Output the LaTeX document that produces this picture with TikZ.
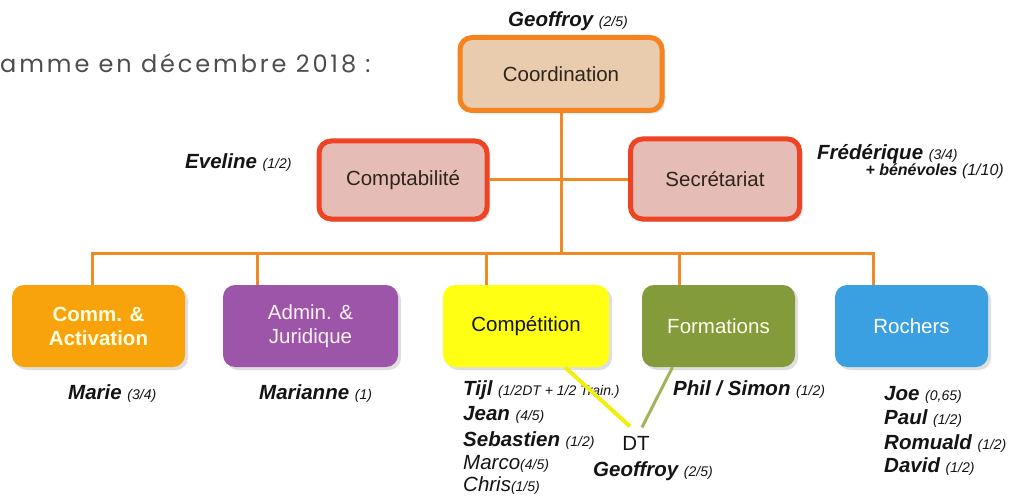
\documentclass[tikz,border=0pt]{standalone}
\usepackage{fontspec}
\setmainfont{Liberation Sans}
\newfontfamily\headfont[LetterSpace=12]{Poppins}
\usetikzlibrary{shadows}

\definecolor{connorange}{HTML}{F08A24}
\definecolor{coordfill}{HTML}{E9CBAE}
\definecolor{coordline}{HTML}{F5831F}
\definecolor{subfill}{HTML}{E6BDB6}
\definecolor{subline}{HTML}{EE4324}
\definecolor{commfill}{HTML}{F8A30B}
\definecolor{adminfill}{HTML}{9C55A8}
\definecolor{competfill}{HTML}{FFFF14}
\definecolor{formfill}{HTML}{849B3B}
\definecolor{rochfill}{HTML}{3BA0E2}
\definecolor{dtyellow}{HTML}{F2EE10}
\definecolor{dtgreen}{HTML}{A2B45A}
\definecolor{ink}{HTML}{141414}
\definecolor{headgray}{HTML}{4D4D4D}

\newcommand{\pers}[2]{{\bfseries\itshape #1} {\fontsize{14}{16}\selectfont\itshape #2}}

\begin{document}
\begin{tikzpicture}[x=1pt,y=-1pt,
    conn/.style={draw=connorange, line width=3pt},
    topbox/.style={rounded corners=12pt, line width=5pt, text=ink!85!brown, font=\fontsize{20.5}{24}\selectfont,
      drop shadow={opacity=0.25, shadow xshift=3pt, shadow yshift=-3pt}},
    dept/.style={rounded corners=12pt, minimum height=82pt, align=center, font=\fontsize{20.5}{24}\selectfont,
      drop shadow={opacity=0.25, shadow xshift=3pt, shadow yshift=-3pt}},
    who/.style={anchor=base west, inner sep=0pt, text=ink, font=\fontsize{20.5}{24}\selectfont}]
  \useasboundingbox (0,0) rectangle (1014,497);

  \node[anchor=base west, inner sep=0pt, text=headgray, font=\headfont\fontsize{24}{28}\selectfont] (title) at (0,73) {amme en décembre 2018 :};

  \node[topbox, draw=coordline, fill=coordfill, minimum width=202pt, minimum height=73pt] (coord) at (561,74) {Coordination};
  \node[topbox, draw=subline, fill=subfill, minimum width=168pt, minimum height=78pt] (compta) at (403,180) {Comptabilité};
  \node[topbox, draw=subline, fill=subfill, minimum width=169pt, minimum height=80pt] (secr) at (715,179) {Secrétariat};

  \node[dept, fill=commfill, minimum width=173pt, text=yellow!12, font=\fontsize{20.5}{24}\selectfont\bfseries] (comm) at (98.5,326) {Comm. \&\\Activation};
  \node[dept, fill=adminfill, minimum width=175pt, text=pink!20] (admin) at (310.5,326) {Admin. \&\\Juridique};
  \node[dept, fill=competfill, minimum width=166pt, text=ink] (compet) at (526,326) {Compétition};
  \node[dept, fill=formfill, minimum width=153pt, text=yellow!8] (form) at (718.5,326) {Formations};
  \node[dept, fill=rochfill, minimum width=153pt, text=white] (roch) at (911.5,326) {Rochers};

  \coordinate (bar) at (561,253);
  \draw[conn] (coord.south) -- (bar);
  \draw[conn] (compta.east) -- (secr.west |- compta.east);
  \draw[conn] ([xshift=-6.5pt]comm.north) |- (bar) -| ([xshift=-38pt]roch.north);
  \draw[conn] ([xshift=-53.5pt]admin.north) -- ([xshift=-53.5pt]admin.north |- bar);
  \draw[conn] ([xshift=-40pt]compet.north) -- ([xshift=-40pt]compet.north |- bar);
  \draw[conn] ([xshift=-39.5pt]form.north) -- ([xshift=-39.5pt]form.north |- bar);

  \node[who] (geoffroytop) at (508,27) {\pers{Geoffroy}{(2/5)}};
  \node[who] (eveline) at (185,169) {\pers{Eveline}{(1/2)}};
  \node[who] (frederique) at (817,160) {\pers{Frédérique}{(3/4)}};
  \node[who, anchor=base east, font=\fontsize{16}{18}\selectfont] (benevoles) at (1004,176) {{\bfseries\itshape + bénévoles} {\itshape (1/10)}};

  \node[who] (marie) at (68,399) {\pers{Marie}{(3/4)}};
  \node[who] (marianne) at (259,399) {\pers{Marianne}{(1)}};

  \node[who] (tijl) at (463,395) {\pers{Tijl}{(1/2DT + 1/2 Train.)}};
  \node[who] (jean) at (463,420) {\pers{Jean}{(4/5)}};
  \node[who] (seb) at (463,446) {\pers{Sebastien}{(1/2)}};
  \node[who] (marco) at (463,469) {\itshape Marco{\fontsize{14}{16}\selectfont(4/5)}};
  \node[who] (chris) at (463,491) {\itshape Chris{\fontsize{14}{16}\selectfont(1/5)}};

  \node[text=ink, font=\fontsize{20.5}{24}\selectfont] (dt) at (636,443) {DT};
  \node[who] (geoffroydt) at (593,476) {\pers{Geoffroy}{(2/5)}};
  \draw[draw=dtyellow, line width=4pt] ([xshift=39pt]compet.south) -- ([xshift=-6pt,yshift=6pt]dt.north);
  \draw[draw=dtgreen, line width=3pt] ([xshift=-46pt]form.south) -- ([xshift=6pt,yshift=5pt]dt.north);

  \node[who] (philsimon) at (673,395) {\pers{Phil / Simon}{(1/2)}};

  \node[who] (joe) at (884,400) {\pers{Joe}{(0,65)}};
  \node[who] (paul) at (884,424) {\pers{Paul}{(1/2)}};
  \node[who] (romuald) at (884,449) {\pers{Romuald}{(1/2)}};
  \node[who] (david) at (884,472) {\pers{David}{(1/2)}};
\end{tikzpicture}
\end{document}
